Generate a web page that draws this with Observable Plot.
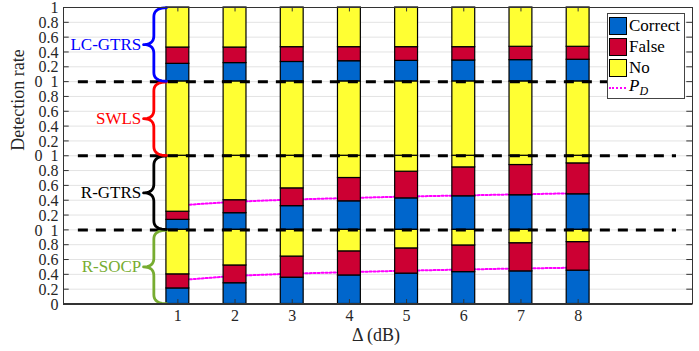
<!DOCTYPE html>
<html>
<head>
<meta charset="utf-8">
<script src="https://cdn.jsdelivr.net/npm/d3@7"></script>
<script src="https://cdn.jsdelivr.net/npm/@observablehq/plot@0.6"></script>
<style>
  body { margin: 0; background: #fff; }
  #wrap { position: relative; width: 699px; height: 351px; font-family: "Liberation Serif", serif; }
  #legend { position: absolute; left: 607px; top: 13px; width: 76px; height: 84px; border: 1px solid #444; background: #fff; }
  .row { position: absolute; left: 1px; height: 18px; display: flex; align-items: center; font-size: 17px; color: #000; }
  .sw { width: 16px; height: 16px; border: 1px solid #000; margin-right: 2px; }
  .pd { width: 17px; height: 0; border-top: 2px dotted #ff00ff; margin-right: 3px; }
</style>
</head>
<body>
<div id="wrap"><div id="chart"></div><div id="legend"></div></div>
<script>
// ---- data ----
const deltas = [1, 2, 3, 4, 5, 6, 7, 8];
const methods = ["R-SOCP", "R-GTRS", "SWLS", "LC-GTRS"]; // bottom to top
const methodColors = ["#77AC30", "#000000", "#FF0000", "#0000FF"];
const statusNames = ["Correct", "False", "No"];
const statusColors = ["#0066CC", "#CC0033", "#FFFF33"];

const lcCorrect   = [0.24, 0.25, 0.265, 0.275, 0.28, 0.285, 0.29, 0.295];
const lcFalse     = [0.22, 0.21, 0.20, 0.19, 0.185, 0.18, 0.18, 0.175];
const swlsCorrect = [0, 0, 0, 0, 0, 0, 0, 0];
const swlsFalse   = [0, 0, 0, 0, 0, 0, 0, 0];
const gtrsCorrect = [0.135, 0.225, 0.32, 0.385, 0.425, 0.453, 0.467, 0.48];
const gtrsFalse   = [0.11, 0.175, 0.24, 0.315, 0.36, 0.39, 0.408, 0.417];
const socpCorrect = [0.21, 0.28, 0.355, 0.385, 0.41, 0.43, 0.44, 0.45];
const socpFalse   = [0.19, 0.24, 0.285, 0.325, 0.34, 0.36, 0.38, 0.385];
const gtrsPd      = [0.33, 0.38, 0.41, 0.43, 0.45, 0.465, 0.48, 0.495];
const socpPd      = [0.32, 0.38, 0.41, 0.43, 0.45, 0.465, 0.48, 0.49];

const panelTickValues = [0, 0.2, 0.4, 0.6, 0.8];
const panelTickLabels = ["0", "0.2", "0.4", "0.6", "0.8"];
const xTickValues = [1, 2, 3, 4, 5, 6, 7, 8];

// ---- build tables ----
const correctBy = [socpCorrect, gtrsCorrect, swlsCorrect, lcCorrect];
const falseBy = [socpFalse, gtrsFalse, swlsFalse, lcFalse];
const rows = [];
methods.forEach((m, k) => deltas.forEach((d, i) => {
  const c = correctBy[k][i], f = falseBy[k][i];
  rows.push({status: "Correct", delta: d, y1: k, y2: k + c});
  rows.push({status: "False", delta: d, y1: k + c, y2: k + c + f});
  rows.push({status: "No", delta: d, y1: k + c + f, y2: k + 1});
}));
const bars = rows.filter(r => r.y2 - r.y1 > 1e-9);

const yTicks = [];
for (let k = 0; k < methods.length; k++) {
  panelTickValues.forEach((v, j) => {
    let label = panelTickLabels[j];
    if (j === 0 && k > 0) label = "0\u00A0\u00A01";
    yTicks.push({pos: k + v, label});
  });
}
yTicks.push({pos: methods.length, label: "1"});

const pdRGTRS = deltas.map((d, i) => ({x: d, y: 1 + gtrsPd[i]}));
const pdRSOCP = deltas.map((d, i) => ({x: d, y: 0 + socpPd[i]}));

// curly brace shape for each panel (in data units)
function quad(p0, p1, p2, n) {
  const out = [];
  for (let t = 0; t <= n; t++) {
    const s = t / n;
    out.push({
      x: (1 - s) * (1 - s) * p0[0] + 2 * (1 - s) * s * p1[0] + s * s * p2[0],
      y: (1 - s) * (1 - s) * p0[1] + 2 * (1 - s) * s * p1[1] + s * s * p2[1]
    });
  }
  return out;
}
function bracePoints(k) {
  const yt = k + 0.995, yb = k + 0.005, ym = k + 0.5, q = 0.12;
  const xr = 0.80, xm = 0.58, xl = 0.40;
  return [
    ...quad([xr, yt], [xm, yt], [xm, yt - q], 10),
    ...quad([xm, ym + q], [xm, ym], [xl, ym], 10),
    ...quad([xl, ym], [xm, ym], [xm, ym - q], 10),
    ...quad([xm, yb + q], [xm, yb], [xr, yb], 10)
  ];
}

const FONT = "Liberation Serif";
const marks = [
  Plot.ruleY(yTicks.map(t => t.pos), {stroke: "#e3e3e3", strokeWidth: 1}),
  Plot.line(pdRGTRS, {x: "x", y: "y", stroke: "#ff00ff", strokeWidth: 2, strokeDasharray: "2,2"}),
  Plot.line(pdRSOCP, {x: "x", y: "y", stroke: "#ff00ff", strokeWidth: 2, strokeDasharray: "2,2"}),
  ...statusNames.map((s, j) => Plot.rect(bars.filter(r => r.status === s), {
    x1: d => d.delta - 0.2, x2: d => d.delta + 0.2, y1: "y1", y2: "y2",
    fill: statusColors[j], stroke: "#000", strokeWidth: 1.2
  })),
  Plot.ruleY([1, 2, 3], {x1: -0.74, x2: 9.72, stroke: "#000", strokeWidth: 3, strokeDasharray: "10,8"}),
  ...methods.map((m, k) => Plot.line(bracePoints(k), {x: "x", y: "y", stroke: methodColors[k], strokeWidth: 2.8, strokeLinecap: "round", strokeLinejoin: "round"})),
  ...methods.map((m, k) => Plot.text([m], {x: 0.36, y: k + 0.5, text: d => d, textAnchor: "end", fill: methodColors[k], fontSize: 17, fontFamily: FONT})),
  // inward ticks
  Plot.ruleX(xTickValues, {y1: 0, y2: 0.06, stroke: "#333", strokeWidth: 1}),
  Plot.ruleX(xTickValues, {y1: 3.94, y2: 4, stroke: "#333", strokeWidth: 1}),
  Plot.ruleY(yTicks.map(t => t.pos), {x1: 9.9, x2: 10, stroke: "#333", strokeWidth: 1}),
  Plot.ruleY(yTicks.map(t => t.pos), {x1: -1, x2: -0.9, stroke: "#333", strokeWidth: 1}),
  Plot.frame({stroke: "#333", strokeWidth: 1}),
  Plot.ruleY([0], {stroke: "#333", strokeWidth: 2}),
  // tick labels & axis titles
  Plot.text(yTicks, {y: "pos", text: "label", frameAnchor: "left", textAnchor: "end", dx: -5, dy: 0.5, fontSize: 16, fontFamily: FONT, fill: "#262626"}),
  Plot.text(xTickValues, {x: d => d, text: d => String(d), frameAnchor: "bottom", dy: 17, fontSize: 16, fontFamily: FONT, fill: "#262626"}),
  Plot.text(["\u0394 (dB)"], {frameAnchor: "bottom", dy: 37, dx: -2, fontSize: 18, fontFamily: FONT, fill: "#262626"}),
  Plot.text(["Detection rate"], {frameAnchor: "left", rotate: -90, dx: -45, dy: -5, fontSize: 18, fontFamily: FONT, fill: "#262626"})
];

const chart = Plot.plot({
  width: 699,
  height: 351,
  marginTop: 7,
  marginRight: 7,
  marginBottom: 47.5,
  marginLeft: 63,
  x: {domain: [-1, 10], axis: null},
  y: {domain: [0, 4], axis: null},
  style: {fontFamily: FONT, background: "#fff", overflow: "visible"},
  marks
});
document.getElementById("chart").appendChild(chart);

// legend
const legend = document.getElementById("legend");
const rowTops = [3, 23.5, 44.5, 65];
statusNames.forEach((s, j) => {
  const r = document.createElement("div");
  r.className = "row";
  r.style.top = rowTops[j] + "px";
  r.innerHTML = `<div class="sw" style="background:${statusColors[j]}"></div><span>${s}</span>`;
  legend.appendChild(r);
});
const pr = document.createElement("div");
pr.className = "row";
pr.style.top = rowTops[3] + "px";
pr.innerHTML = `<div class="pd"></div><span><i>P</i><sub style="font-size:12px;font-style:italic">D</sub></span>`;
legend.appendChild(pr);
</script>
</body>
</html>
